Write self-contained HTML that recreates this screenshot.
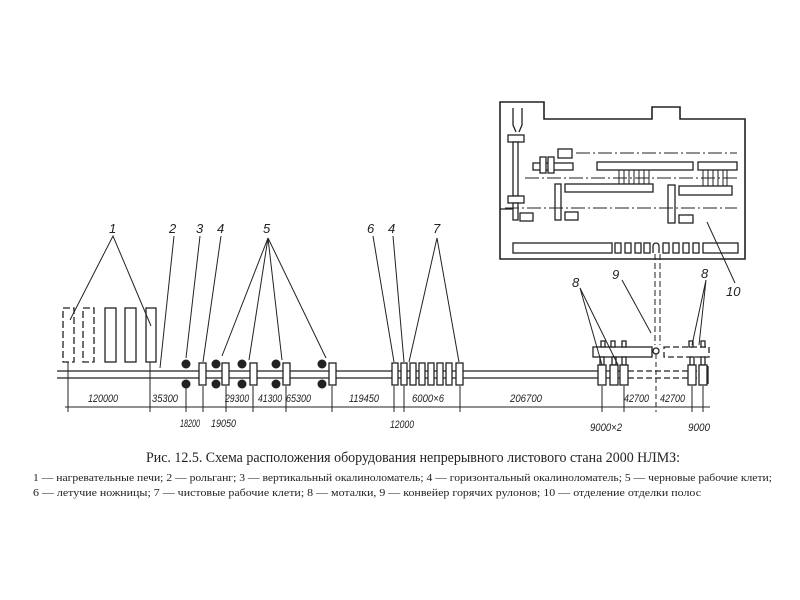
<!DOCTYPE html>
<html><head><meta charset="utf-8"><style>
html,body{margin:0;padding:0;background:#fff;}
svg{display:block;}
text{font-family:"Liberation Sans","DejaVu Sans",sans-serif;fill:#222;}
.it{font-style:italic;}
</style></head><body>
<svg width="800" height="600" viewBox="0 0 800 600" xmlns="http://www.w3.org/2000/svg">
<g stroke="#222" stroke-width="1.3" fill="#fff">
<line x1="57" y1="371" x2="628" y2="371"/>
<line x1="57" y1="378" x2="628" y2="378"/>
<line x1="628" y1="371" x2="708" y2="371" stroke-dasharray="6,3"/>
<line x1="628" y1="378" x2="708" y2="378" stroke-dasharray="6,3"/>
<line x1="708" y1="366" x2="708" y2="384"/>
<rect x="63" y="308" width="11" height="54" stroke-dasharray="7,3"/>
<rect x="83" y="308" width="11" height="54" stroke-dasharray="7,3"/>
<rect x="105" y="308" width="11" height="54"/>
<rect x="125" y="308" width="11" height="54"/>
<rect x="146" y="308" width="10" height="54"/>
<g fill="#222" stroke="none">
<circle cx="186" cy="364" r="4.5"/><circle cx="186" cy="384" r="4.5"/>
<circle cx="216" cy="364" r="4.5"/><circle cx="216" cy="384" r="4.5"/>
<circle cx="242" cy="364" r="4.5"/><circle cx="242" cy="384" r="4.5"/>
<circle cx="276" cy="364" r="4.5"/><circle cx="276" cy="384" r="4.5"/>
<circle cx="322" cy="364" r="4.5"/><circle cx="322" cy="384" r="4.5"/>
</g>
<rect x="199" y="363" width="7" height="22"/>
<rect x="222" y="363" width="7" height="22"/>
<rect x="250" y="363" width="7" height="22"/>
<rect x="283" y="363" width="7" height="22"/>
<rect x="329" y="363" width="7" height="22"/>
<rect x="392" y="363" width="6" height="22"/>
<rect x="401" y="363" width="6" height="22"/>
<rect x="410" y="363" width="6" height="22"/>
<rect x="419" y="363" width="6" height="22"/>
<rect x="428" y="363" width="6" height="22"/>
<rect x="437" y="363" width="6" height="22"/>
<rect x="446" y="363" width="6" height="22"/>
<rect x="456" y="363" width="7" height="22"/>
<rect x="593" y="347" width="59" height="10"/>
<rect x="601" y="341" width="4" height="6"/><rect x="611" y="341" width="4" height="6"/><rect x="622" y="341" width="4" height="6"/>
<rect x="600" y="357" width="4" height="8"/><rect x="612" y="357" width="4" height="8"/><rect x="622" y="357" width="4" height="8"/>
<rect x="598" y="365" width="8" height="20"/>
<rect x="610" y="365" width="8" height="20"/>
<rect x="620" y="365" width="8" height="20"/>
<rect x="664" y="347" width="45" height="10" stroke-dasharray="6,3"/>
<rect x="689" y="341" width="4" height="6"/><rect x="701" y="341" width="4" height="6"/>
<rect x="690" y="357" width="4" height="8"/><rect x="701" y="357" width="4" height="8"/>
<rect x="688" y="365" width="8" height="20"/>
<rect x="699" y="365" width="8" height="20"/>
<circle cx="656" cy="351" r="3"/>
<line x1="655" y1="254" x2="655" y2="345" stroke-dasharray="6,3" stroke-width="1"/>
<line x1="660" y1="254" x2="660" y2="345" stroke-dasharray="6,3" stroke-width="1"/>
<line x1="656" y1="354" x2="656" y2="412" stroke-dasharray="5,3" stroke-width="1"/>
<path d="M500 102 H544 V119 H652 V107 H680 V119 H745 V259 H500 Z" fill="none" stroke-width="1.6"/>
<path d="M513 108 V125 L516 132 M522 108 V125 L519 132" fill="none"/>
<rect x="508" y="135" width="16" height="7"/>
<rect x="513" y="142" width="5" height="54"/>
<rect x="508" y="196" width="16" height="7"/>
<rect x="513" y="203" width="5" height="17"/>
<rect x="520" y="213" width="13" height="8"/>
<line x1="500" y1="209" x2="513" y2="209"/>
<rect x="558" y="149" width="14" height="9"/>
<rect x="533" y="163" width="40" height="7"/>
<rect x="540" y="157" width="6" height="16"/>
<rect x="548" y="157" width="6" height="16"/>
<rect x="597" y="162" width="96" height="8"/>
<rect x="698" y="162" width="39" height="8"/>
<rect x="565" y="184" width="88" height="8"/>
<rect x="679" y="186" width="53" height="9"/>
<rect x="555" y="184" width="6" height="36"/>
<rect x="668" y="185" width="7" height="38"/>
<rect x="565" y="212" width="13" height="8"/>
<rect x="679" y="215" width="14" height="8"/>
<g stroke-width="1">
<line x1="576" y1="153" x2="737" y2="153" stroke-dasharray="14,3,2,3"/>
<line x1="525" y1="178" x2="740" y2="178" stroke-dasharray="14,3,2,3"/>
<line x1="505" y1="208" x2="737" y2="208" stroke-dasharray="14,3,2,3"/>
<path d="M619 170 V184 M624 170 V184 M629 170 V184 M634 170 V184 M639 170 V184 M644 170 V184 M649 170 V184 M703 170 V186 M708 170 V186 M713 170 V186 M718 170 V186 M723 170 V186 M727 170 V186"/>
</g>
<rect x="513" y="243" width="99" height="10"/>
<rect x="615" y="243" width="6" height="10"/><rect x="625" y="243" width="6" height="10"/>
<rect x="635" y="243" width="6" height="10"/><rect x="644" y="243" width="6" height="10"/>
<path d="M653 253 V246 A3 3 0 0 1 659 246 V253" fill="none"/>
<rect x="663" y="243" width="6" height="10"/><rect x="673" y="243" width="6" height="10"/>
<rect x="683" y="243" width="6" height="10"/><rect x="693" y="243" width="6" height="10"/>
<rect x="703" y="243" width="35" height="10"/>
<g fill="none" stroke-width="1">
<path d="M70 320 L113 236 L151 326"/>
<path d="M160 368 L174 236"/>
<path d="M186 358 L200 236"/>
<path d="M203 362 L221 236"/>
<path d="M222 356 L268 238 L249 360 M268 238 L282 360 M268 238 L326 358"/>
<path d="M394 362 L373 236"/>
<path d="M404 362 L393 236"/>
<path d="M409 362 L437 238 L459 362"/>
<path d="M602 365 L580 288 L618 365"/>
<path d="M651 333 L622 280"/>
<path d="M692 345 L706 280 L699 345"/>
<path d="M707 222 L735 283"/>
</g>
<line x1="65" y1="407" x2="710" y2="407" stroke-width="1"/>
<g stroke-width="1">
<path d="M68 362 V412 M150 362 V412 M186 388 V412 M203 386 V412 M226 386 V412 M253 386 V412 M286 386 V412 M332 386 V412 M394 386 V412 M404 386 V412 M460 386 V412 M602 386 V412 M624 386 V412 M692 386 V412 M703 386 V412"/>
</g>
</g>
<g font-size="13" class="it">
<text x="109" y="233">1</text><text x="169" y="233">2</text><text x="196" y="233">3</text>
<text x="217" y="233">4</text><text x="263" y="233">5</text><text x="367" y="233">6</text>
<text x="388" y="233">4</text><text x="433" y="233">7</text>
<text x="572" y="287">8</text><text x="612" y="279">9</text><text x="701" y="278">8</text>
<text x="726" y="296">10</text>
</g>
<g font-size="11" class="it" lengthAdjust="spacingAndGlyphs">
<text x="88" y="402" textLength="30" lengthAdjust="spacingAndGlyphs">120000</text>
<text x="152" y="402" textLength="26" lengthAdjust="spacingAndGlyphs">35300</text>
<text x="225" y="402" textLength="24" lengthAdjust="spacingAndGlyphs">29300</text>
<text x="258" y="402" textLength="24" lengthAdjust="spacingAndGlyphs">41300</text>
<text x="286" y="402" textLength="25" lengthAdjust="spacingAndGlyphs">65300</text>
<text x="349" y="402" textLength="30" lengthAdjust="spacingAndGlyphs">119450</text>
<text x="412" y="402" textLength="32" lengthAdjust="spacingAndGlyphs">6000×6</text>
<text x="510" y="402" textLength="32" lengthAdjust="spacingAndGlyphs">206700</text>
<text x="624" y="402" textLength="25" lengthAdjust="spacingAndGlyphs">42700</text>
<text x="660" y="402" textLength="25" lengthAdjust="spacingAndGlyphs">42700</text>
<text x="180" y="427" textLength="20" lengthAdjust="spacingAndGlyphs">18200</text>
<text x="211" y="427" textLength="25" lengthAdjust="spacingAndGlyphs">19050</text>
<text x="390" y="428" textLength="24" lengthAdjust="spacingAndGlyphs">12000</text>
<text x="590" y="431" textLength="32" lengthAdjust="spacingAndGlyphs">9000×2</text>
<text x="688" y="431" textLength="22" lengthAdjust="spacingAndGlyphs">9000</text>
</g>
<text x="146" y="462" font-size="15" textLength="534" lengthAdjust="spacingAndGlyphs" style="font-family:'Liberation Serif',serif">Рис.  12.5. Схема расположения оборудования непрерывного листового стана 2000 НЛМЗ:</text>
<text x="33" y="481" font-size="11" textLength="739" lengthAdjust="spacingAndGlyphs" style="font-family:'Liberation Serif',serif">1 — нагревательные печи;  2 — рольганг;  3 — вертикальный окалиноломатель; 4 — горизонтальный  окалиноломатель;  5 — черновые  рабочие  клети;</text>
<text x="33" y="496" font-size="11" textLength="668" lengthAdjust="spacingAndGlyphs" style="font-family:'Liberation Serif',serif">6 — летучие ножницы;  7 — чистовые рабочие клети;  8 — моталки,  9 — конвейер горячих рулонов;  10 — отделение отделки полос</text>
</svg>
</body></html>
